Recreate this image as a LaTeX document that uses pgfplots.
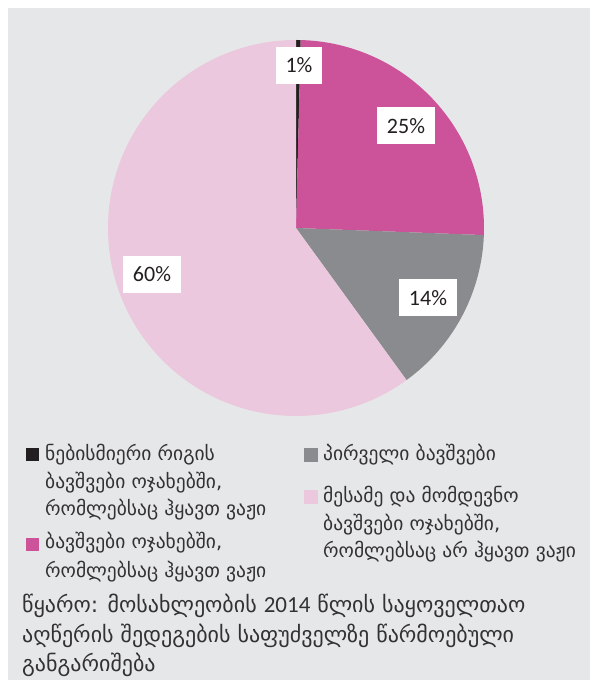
\documentclass[border=0pt]{standalone}
\usepackage{pgfplots}
\pgfplotsset{compat=1.18}
\usepackage{fontspec}
\setmainfont{Carlito}
\newfontfamily\geo{DejaVu Sans}
\definecolor{bgGray}{RGB}{230,231,232}
\definecolor{cBlack}{RGB}{35,31,32}
\definecolor{cMag}{RGB}{204,82,153}
\definecolor{cGray}{RGB}{138,139,142}
\definecolor{cPink}{RGB}{235,200,221}
\definecolor{txt}{RGB}{50,50,50}
% shares (percent), clockwise from the top
\def\vA{0.4}\def\vB{25.2}\def\vC{14.4}\def\vD{60.0}
\pgfmathsetmacro\aA{90}
\pgfmathsetmacro\aB{\aA-3.6*\vA}
\pgfmathsetmacro\aC{\aB-3.6*\vB}
\pgfmathsetmacro\aD{\aC-3.6*\vC}
\pgfmathsetmacro\aE{\aD-3.6*\vD}
\begin{document}
\begin{tikzpicture}
\fill[white] (0pt,0pt) rectangle (590pt,680pt);
\fill[bgGray] (8pt,0pt) rectangle (590pt,672pt);
\begin{axis}[at={(108pt,264pt)},anchor=south west,width=376pt,height=376pt,scale only axis,
  xmin=-1,xmax=1,ymin=-1,ymax=1,hide axis,clip=false]
\addplot[fill=cBlack,draw=none,domain=\aB:\aA,samples=5,variable=\t] ({cos(t)},{sin(t)}) -- (axis cs:0,0) -- cycle;
\addplot[fill=cMag,draw=none,domain=\aC:\aB,samples=80,variable=\t] ({cos(t)},{sin(t)}) -- (axis cs:0,0) -- cycle;
\addplot[fill=cGray,draw=none,domain=\aD:\aC,samples=60,variable=\t] ({cos(t)},{sin(t)}) -- (axis cs:0,0) -- cycle;
\addplot[fill=cPink,draw=none,domain=\aE:\aD,samples=200,variable=\t] ({cos(t)},{sin(t)}) -- (axis cs:0,0) -- cycle;
\end{axis}
\begin{scope}[x=1pt,y=1pt]
\tikzset{lab/.style={fill=white,text=cBlack,font=\fontsize{22}{24}\selectfont,minimum width=46pt,minimum height=37pt,inner sep=2pt}}
\node[lab] at (299,614.5) {1\%};
\node[lab,minimum width=58pt] at (406,554) {25\%};
\node[lab,minimum width=58pt] at (428,382) {14\%};
\node[lab,minimum width=58pt] at (152,405.5) {60\%};
% legend
\tikzset{lg/.style={anchor=base west,inner sep=0,text=txt,font=\geo\fontsize{19.5}{21}\selectfont}}
\fill[cBlack] (26,232) rectangle (39,219);
\node[lg] at (45,219) {ნებისმიერი რიგის};
\node[lg] at (45,191) {ბავშვები ოჯახებში,};
\node[lg] at (45,164) {რომლებსაც ჰყავთ ვაჟი};
\fill[cMag] (26,142) rectangle (39,129);
\node[lg] at (45,131) {ბავშვები ოჯახებში,};
\node[lg] at (45,102) {რომლებსაც ჰყავთ ვაჟი};
\fill[cGray] (304,232) rectangle (318,218);
\node[lg] at (323,219) {პირველი ბავშვები};
\fill[cPink] (304,190) rectangle (318,176);
\node[lg] at (323,177) {მესამე და მომდევნო};
\node[lg] at (323,149) {ბავშვები ოჯახებში,};
\node[lg] at (323,122) {რომლებსაც არ ჰყავთ ვაჟი};
% source
\tikzset{src/.style={anchor=base west,inner sep=0,text=txt,font=\geo\fontsize{22}{24}\selectfont}}
\node[src] at (22,67) {წყარო: მოსახლეობის {\rmfamily\fontsize{23}{24}\selectfont 2014} წლის საყოველთაო};
\node[src] at (22,37) {აღწერის შედეგების საფუძველზე წარმოებული};
\node[src] at (22,9) {განგარიშება};
\end{scope}
\end{tikzpicture}
\end{document}
